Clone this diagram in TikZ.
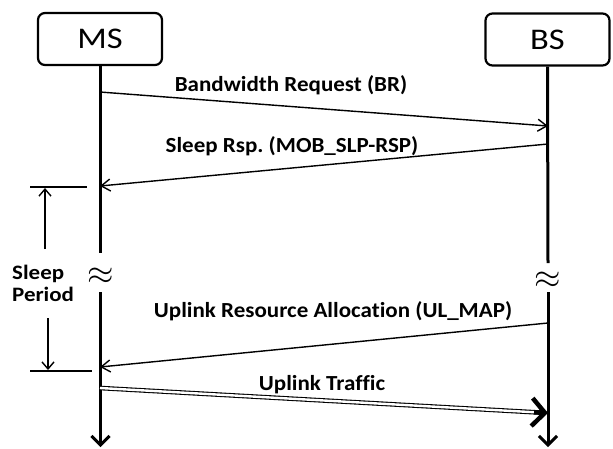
\documentclass[tikz,border=0pt]{standalone}
\usepackage{fontspec}
\usepackage{graphicx}
\setmainfont[Ligatures=NoCommon]{Carlito}
\usetikzlibrary{arrows.meta,calc}
\frenchspacing
% wide label text: bold Carlito stretched a little sideways
\newcommand{\widetext}[2]{\scalebox{#1}[1]{#2}}
\begin{document}
\begin{tikzpicture}[x=1pt,y=-1pt,
  entity/.style={draw,line width=2.2pt,rounded corners=7pt,minimum width=124pt,minimum height=52pt,inner sep=0pt,font=\fontsize{30}{30}\selectfont},
  lifeline/.style={line width=3pt,-{Straight Barb[length=9pt,width=18pt,line width=3pt]}},
  msg/.style={line width=1.4pt,-{Straight Barb[length=9pt,width=12pt,line width=1.4pt]}},
  msglabel/.style={font=\bfseries\fontsize{21.5}{21.5}\selectfont,inner sep=0pt},
  brk/.style={inner sep=0pt},
  tick/.style={line width=1.4pt},
  span/.style={line width=1.4pt,-{Straight Barb[length=7pt,width=12pt,line width=1.4pt]}}]
\useasboundingbox (0,0) rectangle (613,448);

% entities
\node[entity] (ms) at (100,39) {\widetext{1.15}{MS}};
\node[entity] (bs) at (547.5,39.5) {\widetext{1.15}{BS}};

% lifeline coordinates
\coordinate (msA) at (100.5,253);
\coordinate (msB) at (100.5,292);
\coordinate (msEnd) at (100.5,447);
\coordinate (bsA) at (548,263);
\coordinate (bsB) at (548,292);
\coordinate (bsEnd) at (548,447);

% lifelines with breaks
\draw[line width=3pt] (ms.south -| msA) -- (msA);
\draw[lifeline] (msB) -- (msEnd);
\draw[line width=3pt] (bs.south) -- (bsA);
\draw[lifeline] (bsB) -- (bsEnd);
\node[brk] (msgap) at (101,276) {\scalebox{3.4}{$\approx$}};
\node[brk] (bsgap) at (548,280) {\scalebox{3.4}{$\approx$}};

% message end points
\coordinate (br1) at (100,92);
\coordinate (br2) at (548,126);
\coordinate (sr1) at (548,144);
\coordinate (sr2) at (100,186);
\coordinate (ul1) at (548,323);
\coordinate (ul2) at (100,367);
\coordinate (ut1) at (100,388);
\coordinate (ut2) at (548,413);

% messages
\draw[msg] (br1) -- (br2);
\draw[msg] (sr1) -- (sr2);
\draw[msg] (ul1) -- (ul2);
\draw[double,double distance=2.4pt,line width=1.1pt,shorten >=3pt] (ut1) -- (ut2);
\draw[line width=4.5pt,-{Straight Barb[length=13pt,width=28pt,line width=4.5pt]}]
  ($(ut2)!14pt!(ut1)$) -- (ut2);

% message labels
\node[msglabel] (lbr) at (291,85) {\widetext{1.07}{Bandwidth Request (BR)}};
\node[msglabel] (lsr) at (292,146) {\widetext{1.07}{Sleep Rsp. (MOB\_SLP-RSP)}};
\node[msglabel] (lul) at (333,311) {\widetext{1.07}{Uplink Resource Allocation (UL\_MAP)}};
\node[msglabel] (lut) at (322,385) {\widetext{1.07}{Uplink Traffic}};

% sleep period
\coordinate (t1a) at (30,187);
\coordinate (t1b) at (87,187);
\coordinate (t2a) at (30,371);
\coordinate (t2b) at (92,371);
\draw[tick] (t1a) -- (t1b);
\draw[tick] (t2a) -- (t2b);
\coordinate (u1) at (45,249);
\coordinate (u2) at (45,188);
\coordinate (d1) at (48,318);
\coordinate (d2) at (48,370);
\draw[span] (u1) -- (u2);
\draw[span] (d1) -- (d2);
\node[msglabel,anchor=west,align=left,font=\bfseries\fontsize{20.5}{22}\selectfont] (sp) at (12,283)
  {\widetext{1.12}{Sleep}\\\widetext{1.12}{Period}};
\end{tikzpicture}
\end{document}
